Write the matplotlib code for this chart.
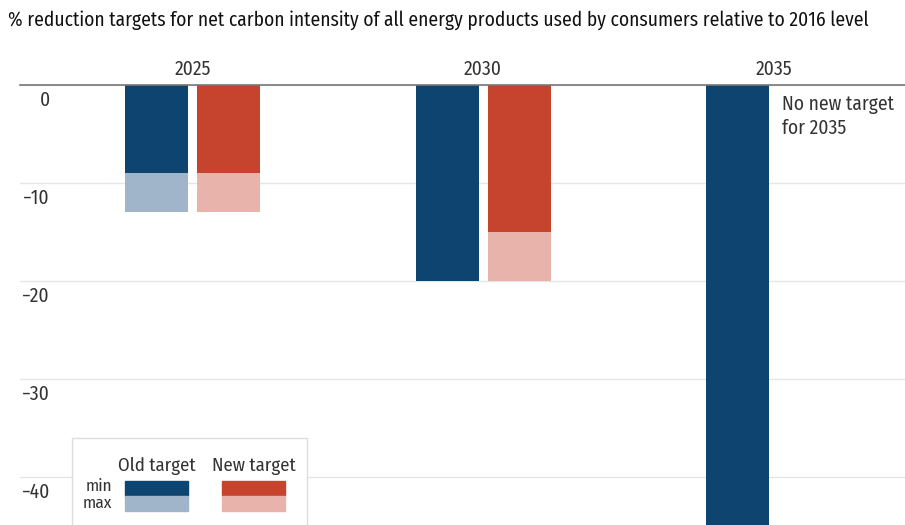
import matplotlib
matplotlib.use("Agg")
import matplotlib.pyplot as plt
from matplotlib.patches import Rectangle
from matplotlib.transforms import blended_transform_factory, ScaledTranslation
import numpy as np

plt.rcParams['font.family'] = ['Fira Sans Condensed', 'PT Sans Narrow', 'Roboto Condensed', 'DejaVu Sans']

years = ["2025", "2030", "2035"]
old_min = [-9, -20, -45]
old_max = [-13, -20, -45]
new_min = [-9, -15, None]
new_max = [-13, -20, None]
yticks = [0, -10, -20, -30, -40]

dark_blue, light_blue = "#0d4570", "#a0b5c9"
dark_red, light_red = "#c6442e", "#e8b3aa"
txt = "#333333"

W, H = 905, 525
fig = plt.figure(figsize=(W / 100, H / 100), dpi=100)
ax = fig.add_axes([20 / W, 0, (W - 20) / W, (H - 85) / H])

x = np.arange(len(years))
bw = 63 / 290.5
off = 36 / 290.5

def draw(xpos, vmin, vmax, c_dark, c_light):
    ax.bar(xpos, vmin, width=bw, color=c_dark, zorder=3)
    ax.bar(xpos, vmax - vmin, bottom=vmin, width=bw, color=c_light, zorder=3)

for i in range(len(years)):
    draw(x[i] - off, old_min[i], old_max[i], dark_blue, light_blue)
    if new_min[i] is not None:
        draw(x[i] + off, new_min[i], new_max[i], dark_red, light_red)

ax.set_xlim(-172.5 / 290.5, (885 - 172.5) / 290.5)
ax.set_ylim(-44.9, 0)
ax.set_yticks(yticks)
ax.tick_params(axis='y', length=0, labelleft=False)

# y labels sit just under their gridlines, inside the plot area
ylab_tr = blended_transform_factory(ax.transAxes, ax.transData) + \
    ScaledTranslation(0, -0.06, fig.dpi_scale_trans)
for t in yticks:
    ax.text(30 / 885, t, "\u2212" + str(-t) if t else "0", transform=ylab_tr,
            ha='right', va='top', fontsize=14, color=txt)

ax.xaxis.tick_top()
ax.set_xticks(x)
ax.set_xticklabels(years)
ax.tick_params(axis='x', length=0, pad=4, labelsize=14, labelcolor=txt)

ax.grid(axis='y', color="#e6e6e6", linewidth=1, zorder=0)
for s in ["left", "right", "bottom"]:
    ax.spines[s].set_visible(False)
ax.spines["top"].set_color("#777777")
ax.spines["top"].set_linewidth(1.2)
ax.spines["top"].set_zorder(4)

ax.text(x[2] - off + bw / 2 + 13 / 290.5, -1.0, "No new target\nfor 2035",
        ha='left', va='top', fontsize=14, color=txt, linespacing=1.3)

fig.text(8 / W, 1 - 20 / H,
         "% reduction targets for net carbon intensity of all energy products used by consumers relative to 2016 level",
         ha='left', va='center', fontsize=14, color="#111111")

# legend panel
def fx(px):
    return px / W

def fy(py):
    return 1 - py / H

fig.patches.append(Rectangle((fx(72), fy(530)), fx(307) - fx(72), fy(438) - fy(530),
                             transform=fig.transFigure, facecolor="white",
                             edgecolor="#dddddd", linewidth=1, zorder=5))
for x0, c1, c2, label in [(125, dark_blue, light_blue, "Old target"),
                          (222, dark_red, light_red, "New target")]:
    fig.patches.append(Rectangle((fx(x0), fy(496)), 63 / W, 15 / H,
                                 transform=fig.transFigure, color=c1, zorder=6))
    fig.patches.append(Rectangle((fx(x0), fy(511)), 63 / W, 15 / H,
                                 transform=fig.transFigure, color=c2, zorder=6))
    fig.text(fx(x0 + 31.5), fy(466), label, ha='center', va='center',
             fontsize=13.5, color=txt, zorder=7)
fig.text(fx(112), fy(491), "min", ha='right', va='baseline', fontsize=12.5,
         color=txt, zorder=7)
fig.text(fx(112), fy(508), "max", ha='right', va='baseline', fontsize=12.5,
         color=txt, zorder=7)

fig.savefig("out.png", dpi=100)
